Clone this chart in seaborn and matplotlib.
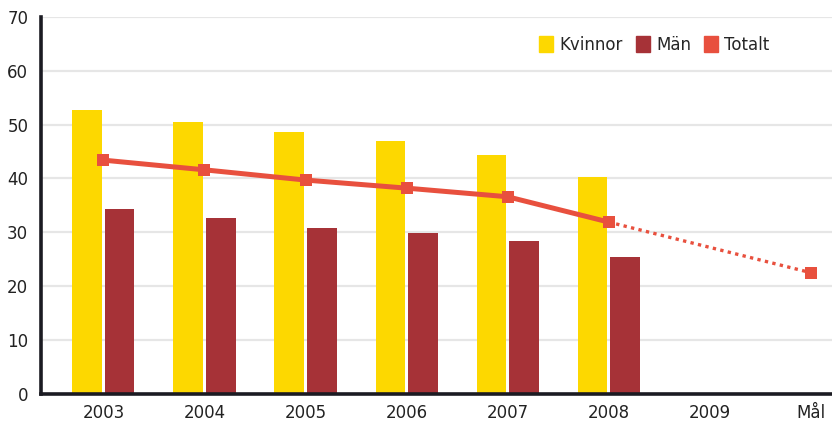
import pandas as pd
import matplotlib.pyplot as plt
import seaborn as sns
from matplotlib.patches import Patch

kategorier = ["2003", "2004", "2005", "2006", "2007", "2008", "2009", "Mål"]
ar = ["2003", "2004", "2005", "2006", "2007", "2008"]
kvinnor = [52.7, 50.5, 48.6, 47.0, 44.4, 40.3]
man = [34.3, 32.7, 30.8, 29.9, 28.4, 25.4]
totalt = [43.4, 41.6, 39.7, 38.2, 36.6, 31.9]
mal_varde = 22.5

gul = "#FDD800"
rod = "#A63237"
orange = "#E8503E"

df = pd.DataFrame({
    "ar": ar * 2,
    "andel": kvinnor + man,
    "grupp": ["Kvinnor"] * len(ar) + ["Män"] * len(ar),
})

sns.set_style("white")
plt.rcParams["font.family"] = ["DejaVu Sans"]

fig = plt.figure(figsize=(8.32, 4.23), dpi=100)
ax = fig.add_axes([0.049, 0.069, 0.951, 0.891])

sns.barplot(
    data=df, x="ar", y="andel", hue="grupp", order=kategorier,
    palette={"Kvinnor": gul, "Män": rod}, width=0.64, gap=0.08,
    saturation=1, legend=False, linewidth=0, ax=ax, zorder=2,
)

# totalt: heldragen linje 2003-2008, prickad mot målet
pos = [kategorier.index(a) for a in ar]
sns.lineplot(x=pos, y=totalt, color=orange, linewidth=3.6, marker="s",
             markersize=8.5, markeredgewidth=0, ax=ax, zorder=4)
sns.lineplot(x=[pos[-1], kategorier.index("Mål")], y=[totalt[-1], mal_varde],
             color=orange, linewidth=2.4, linestyle=(0, (1, 1.3)), ax=ax, zorder=3)
sns.lineplot(x=[kategorier.index("Mål")], y=[mal_varde], color=orange,
             marker="s", markersize=8.5, markeredgewidth=0, ax=ax, zorder=4)

ax.set_ylim(0, 70)
ax.set_xlim(-0.62, 7.21)
ax.set_yticks(range(0, 71, 10))
ax.set_xticks(range(len(kategorier)))
ax.set_xticklabels(kategorier)
ax.set_xlabel("")
ax.set_ylabel("")
ax.yaxis.grid(True, color="#e6e6e6", linewidth=1.6, zorder=0)
ax.set_axisbelow(True)
for s in ["top", "right"]:
    ax.spines[s].set_visible(False)
for s in ["left", "bottom"]:
    ax.spines[s].set_color("#1b1b22")
    ax.spines[s].set_linewidth(2.6)
    ax.spines[s].set_zorder(5)
ax.tick_params(axis="both", length=0, labelsize=12, colors="#222222")
ax.tick_params(axis="y", pad=9)
ax.tick_params(axis="x", pad=7)

handles = [Patch(color=gul, label="Kvinnor"), Patch(color=rod, label="Män"),
           Patch(color=orange, label="Totalt")]
ax.legend(handles=handles, ncol=3, frameon=False, loc="upper right",
          bbox_to_anchor=(0.94, 0.99), fontsize=12, handlelength=0.85,
          handleheight=1.1, handletextpad=0.35, columnspacing=0.8)

fig.savefig("out.png", dpi=100)
